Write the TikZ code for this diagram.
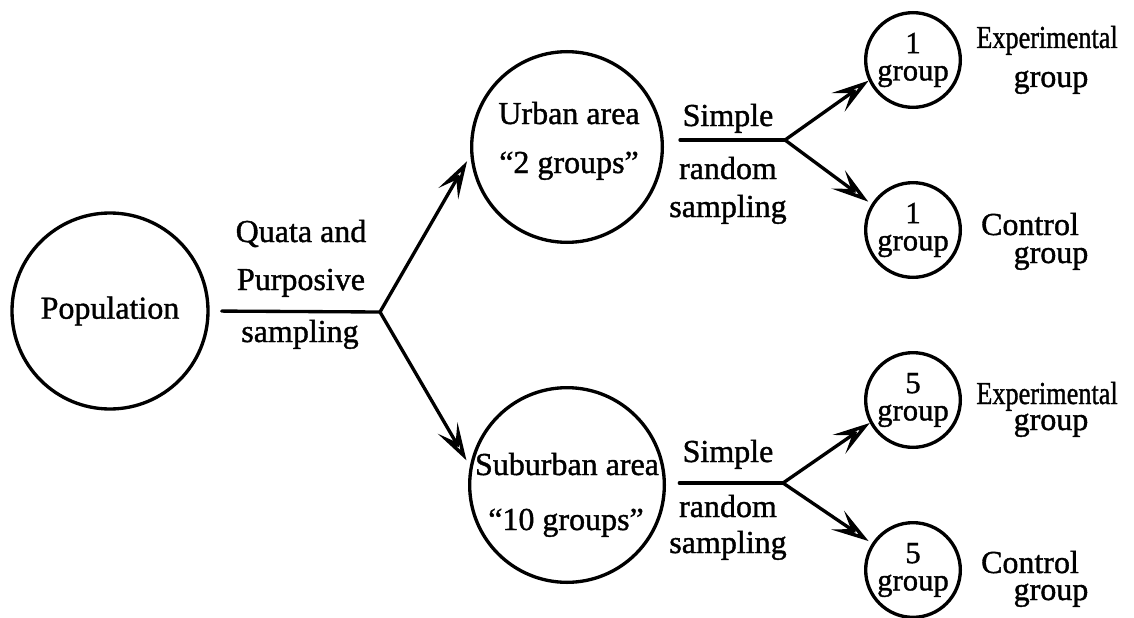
\documentclass[tikz,border=0pt]{standalone}
\usepackage{fontspec}
\setmainfont{Liberation Serif}[FakeBold=1.2]
\usetikzlibrary{arrows.meta}

\begin{document}
\begin{tikzpicture}[x=0.75pt,y=-0.75pt,
  txt/.style={anchor=base, inner sep=0pt, font=\fontsize{24}{29}\selectfont},
  bigcirc/.style={draw, circle, line width=2.5pt, inner sep=0pt,
    font=\fontsize{24}{29}\selectfont},
  smallcirc/.style={draw, circle, line width=2.5pt, inner sep=0pt,
    minimum size=71pt, align=center, font=\fontsize{23}{20.5}\selectfont},
  conn/.style={line width=2.5pt, line cap=round},
  arrowline/.style={conn,
    -{Stealth[open, length=28pt, width=17pt, inset=12pt, line width=2.6pt]}}]

\useasboundingbox (0,0) rectangle (1134,617);

% sample groups
\node[bigcirc, minimum size=147pt] (pop) at (110,311) {Population};
\node[bigcirc, minimum size=143pt] (urban) at (567,147) {};
\node[bigcirc, minimum size=146pt] (suburban) at (567,485) {};

\node[txt] (urban1) at (569,124) {Urban area};
\node[txt] (urban2) at (569,173) {“2 groups”};
\node[txt] (sub1) at (567,475) {Suburban area};
\node[txt] (sub2) at (566,530) {“10 groups”};

\node[smallcirc] (ue) at (913,60) {1\\group};
\node[smallcirc] (uc) at (913,230) {1\\group};
\node[smallcirc] (se) at (913,400) {5\\group};
\node[smallcirc] (sc) at (913,570) {5\\group};

% branch points
\coordinate (b0) at (380,312);
\coordinate (b1) at (785,140);
\coordinate (b2) at (783,483);

% connectors
\draw[conn, shorten <=9pt] (pop.east) -- (b0);
\draw[arrowline, shorten >=5pt] (b0) -- (urban.185);
\draw[arrowline, shorten >=5pt] (b0) -- (suburban.169);

\draw[conn, shorten <=12pt] (urban.east |- b1) -- (b1);
\draw[arrowline] (b1) -- (ue.205);
\draw[arrowline, shorten >=3pt] (b1) -- (uc.148);

\draw[conn, shorten <=10pt] (suburban.east |- b2) -- (b2);
\draw[arrowline] (b2) -- (se.208);
\draw[arrowline, shorten >=3pt] (b2) -- (sc.147);

% sampling methods
\node[txt] (q1) at (301,242) {Quata and};
\node[txt] (q2) at (301,290) {Purposive};
\node[txt] (q3) at (300,342) {sampling};

\node[txt] (s1) at (728,126) {Simple};
\node[txt] (s2) at (728,179) {random};
\node[txt] (s3) at (728,217) {sampling};

\node[txt] (t1) at (728,462) {Simple};
\node[txt] (t2) at (728,517) {random};
\node[txt] (t3) at (728,553) {sampling};

% group labels
\node[txt] (e1) at (1047,48) {\scalebox{0.82}[1]{Experimental}};
\node[txt] (e2) at (1051,87) {group};
\node[txt] (c1) at (1030,235) {Control};
\node[txt] (c2) at (1051,263) {group};

\node[txt] (f1) at (1047,404) {\scalebox{0.82}[1]{Experimental}};
\node[txt] (f2) at (1051,430) {group};
\node[txt] (d1) at (1030,573) {Control};
\node[txt] (d2) at (1051,600) {group};

\end{tikzpicture}
\end{document}
